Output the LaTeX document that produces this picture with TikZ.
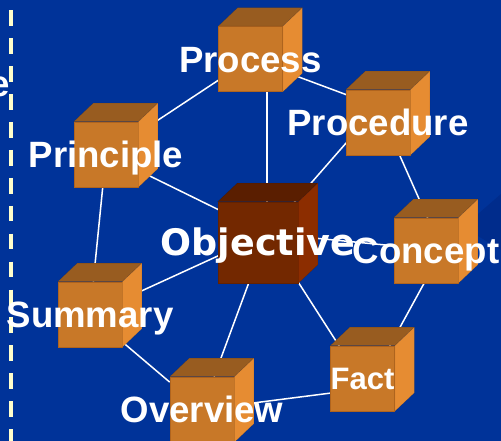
\documentclass[tikz,border=0pt]{standalone}
\usepackage{fontspec}
\setmainfont{Liberation Sans}
\newfontfamily\objfont{DejaVu Sans}
\usepackage{xcolor}
\definecolor{SlideBlue}{RGB}{0,51,153}
\definecolor{ShadeBlue}{RGB}{0,44,140}
\definecolor{RailCream}{RGB}{255,255,204}
\definecolor{BoxFront}{RGB}{200,120,40}
\definecolor{BoxTop}{RGB}{152,92,32}
\definecolor{BoxSide}{RGB}{230,140,50}
\definecolor{BoxEdge}{RGB}{176,100,30}
\definecolor{ObjFront}{RGB}{115,40,0}
\definecolor{ObjTop}{RGB}{90,30,0}
\definecolor{ObjSide}{RGB}{140,45,0}
\definecolor{ObjEdge}{RGB}{100,34,0}
\usepackage{tikz}
\pgfdeclarelayer{back}
\pgfsetlayers{back,main}
\tikzset{
  % Front face of an orange cube
  box/.style={
    rectangle,
    fill=BoxFront,
    draw=BoxEdge,
    line width=0.6pt,
    minimum width=64pt,
    minimum height=65pt,
    inner sep=0pt
  },
  % Front face of the centre cube
  hbox/.style={box, fill=ObjFront, draw=ObjEdge, minimum width=80pt, minimum height=81pt},
  % Top and side faces
  face/.style={draw=black, draw opacity=0.12, line width=0.6pt},
  % Connector
  link/.style={
    draw=white,
    line width=1.5pt
  },
  % Cube label
  lbl/.style={
    text=white,
    inner sep=0pt,
    font=\fontsize{36.6}{40}\selectfont\bfseries,
    text height=26.2pt,
    text depth=0pt
  },
  % Dashed rule at the left
  rail/.style={draw=RailCream, line width=4.3pt, dash pattern=on 15.7pt off 12.2pt}
}

\begin{document}
\begin{tikzpicture}[x=1pt, y=-1pt]
  \useasboundingbox (0,0) rectangle (501,441);
  \begin{pgfonlayer}{back}
    \fill[SlideBlue] (0,0) rectangle (501,441);
    \fill[ShadeBlue] (478,214) -- (501,194) -- (501,250) -- (478,236) -- cycle;
    \draw[rail] (11.2,10.5) -- (11.2,441);
  \end{pgfonlayer}

  % Cubes (front faces)
  \node[box]  (prin)  at (106,154.5) {};
  \node[box]  (proc)  at (250.5,59)  {};
  \node[box]  (procd) at (378,122.5) {};
  \node[hbox] (obj)   at (258,242.5) {};
  \node[box]  (conc)  at (426,250.5) {};
  \node[box]  (summ)  at (90,314.5)  {};
  \node[box]  (over)  at (202,409.5) {};
  \node[box]  (fact)  at (362.5,378.5) {};

  \foreach \n/\ct/\cs in {prin/BoxTop/BoxSide, proc/BoxTop/BoxSide, procd/BoxTop/BoxSide,
      obj/ObjTop/ObjSide, conc/BoxTop/BoxSide, summ/BoxTop/BoxSide,
      over/BoxTop/BoxSide, fact/BoxTop/BoxSide} {
    \filldraw[face, fill=\ct] (\n.north west) -- ++(19.5,-18.5)
      -- ([shift={(19.5,-18.5)}]\n.north east) -- (\n.north east) -- cycle;
    \filldraw[face, fill=\cs] (\n.north east) -- ++(19.5,-18.5)
      -- ([shift={(19.5,-18.5)}]\n.south east) -- (\n.south east) -- cycle;
  }

  % Hubs where the lines meet
  \coordinate (procd-c) at ([yshift=16pt]procd.center);
  \coordinate (obj-c)   at ([shift={(9,-9)}]obj.center);
  \coordinate (conc-c)  at ([xshift=16pt]conc.center);
  \coordinate (fact-c)  at ([shift={(4,10)}]fact.center);

  \begin{pgfonlayer}{back}
    \draw[link] (prin) -- (proc);
    \draw[link] (proc) -- (procd-c);
    \draw[link] (proc.center -| obj-c) -- (obj-c);
    \draw[link] (procd-c) -- (obj-c);
    \draw[link] (procd-c) -- (conc-c);
    \draw[link] (prin) -- (obj-c);
    \draw[link] (prin) -- (summ);
    \draw[link] (summ) -- (obj-c);
    \draw[link] (summ) -- (over);
    \draw[link] (obj-c) -- (over);
    \draw[link] (obj-c) -- (fact-c);
    \draw[link] (obj-c) -- (conc-c);
    \draw[link] (conc-c) -- (fact-c);
    \draw[link] (over) -- (fact-c);
  \end{pgfonlayer}

  % Labels
  \node[lbl] (prin-l)  at (prin)  {Principle};
  \node[lbl] (proc-l)  at (proc)  {Process};
  \node[lbl] (procd-l) at (procd) {Procedure};
  \node[lbl, font=\objfont\fontsize{36.5}{40}\selectfont\bfseries, text height=26.6pt]
    (obj-l) at (obj) {Objective};
  \node[lbl] (conc-l)  at (conc)  {Concept};
  \node[lbl] (summ-l)  at (summ)  {Summary};
  \node[lbl] (over-l)  at (over)  {Overview};
  \node[lbl, font=\fontsize{31}{34}\selectfont\bfseries, text height=22.2pt]
    (fact-l) at (fact) {Fact};
  \node[lbl, anchor=base east] (cut-l) at (10,97) {e};
\end{tikzpicture}
\end{document}
